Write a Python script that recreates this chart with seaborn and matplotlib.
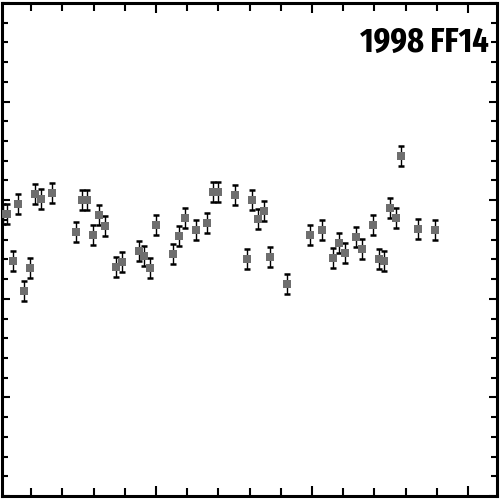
"""
Lightcurve of 1998 FF14 (relative magnitude vs time)
"""
#------------------------------------------------------------------------------
# Libraries
#------------------------------------------------------------------------------

import numpy as np
import pandas as pd
import seaborn as sns
import matplotlib
matplotlib.use('Agg')
import matplotlib.pyplot as plt
from matplotlib.ticker import MultipleLocator

#------------------------------------------------------------------------------
# Data
#------------------------------------------------------------------------------

time = [0.019, 0.045, 0.083, 0.115, 0.154, 0.192, 0.224, 0.263, 0.333, 0.487,
        0.526, 0.558, 0.596, 0.635, 0.673, 0.744, 0.782, 0.891, 0.923, 0.962,
        1.000, 1.109, 1.147, 1.186, 1.256, 1.327, 1.365, 1.397, 1.506, 1.583,
        1.615, 1.654, 1.692, 1.731, 1.840, 1.987, 2.064, 2.135, 2.173, 2.212,
        2.282, 2.321, 2.391, 2.429, 2.462, 2.500, 2.538, 2.571, 2.679, 2.788]

mag = [2.860, 2.860, 2.383, 2.961, 2.079, 2.312, 3.063, 3.012, 3.073, 2.677,
       3.002, 3.002, 2.647, 2.850, 2.738, 2.323, 2.373, 2.485, 2.434, 2.312,
       2.748, 2.454, 2.637, 2.819, 2.698, 2.769, 3.083, 3.083, 3.053, 2.404,
       3.002, 2.809, 2.890, 2.424, 2.150, 2.647, 2.698, 2.414, 2.566, 2.465,
       2.627, 2.505, 2.748, 2.404, 2.383, 2.921, 2.819, 3.448, 2.708, 2.698]

err = [0.1] * len(time)

label = '1998 FF14'

df = pd.DataFrame({'time': time, 'mag': mag, 'err': err})

#------------------------------------------------------------------------------
# Plot
#------------------------------------------------------------------------------

sns.set_style('ticks')

fig = plt.figure(figsize = (5, 5), dpi = 100)
ax = fig.add_axes([0.004, 0.008, 0.99, 0.986])

ax.errorbar(df['time'], df['mag'], yerr = df['err'], fmt = 'none',
            ecolor = 'black', elinewidth = 1.0, capsize = 2.2, capthick = 1.8,
            zorder = 2)
sns.scatterplot(data = df, x = 'time', y = 'mag', marker = 's', s = 34,
                color = '#6e6e6e', linewidth = 0, ax = ax, zorder = 3)

ax.set_xlim(0.013, 3.186)
ax.set_ylim(0, 5)
ax.xaxis.set_major_locator(MultipleLocator(1))
ax.xaxis.set_minor_locator(MultipleLocator(0.2))
ax.yaxis.set_major_locator(MultipleLocator(1))
ax.yaxis.set_minor_locator(MultipleLocator(0.2))
ax.tick_params(axis = 'both', which = 'both', direction = 'in',
               top = True, right = True, labelbottom = False,
               labelleft = False, width = 1.5, color = 'black')
ax.tick_params(axis = 'x', which = 'major', length = 7.5)
ax.tick_params(axis = 'x', which = 'minor', length = 6)
ax.tick_params(axis = 'y', which = 'major', length = 6)
ax.tick_params(axis = 'y', which = 'minor', length = 4.5)
ax.set_xlabel('')
ax.set_ylabel('')
for side in ax.spines.values():
    side.set_linewidth(2.2)
    side.set_color('black')

ax.text(0.984, 0.901, label, transform = ax.transAxes, ha = 'right',
        va = 'baseline', fontsize = 25, fontweight = 'bold', color = 'black',
        family = ['Fira Sans Extra Condensed', 'DejaVu Sans'])

plt.savefig('out.png', dpi = 100)
